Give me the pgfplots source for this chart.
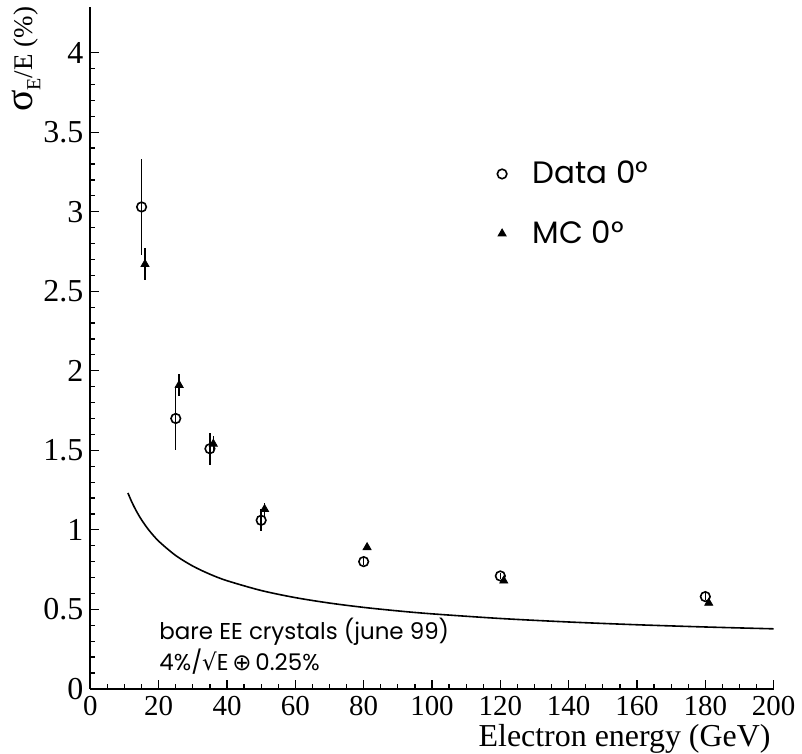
\documentclass[border=0pt]{standalone}
\usepackage{fontspec}
\setmainfont{Liberation Serif}
\newfontfamily\legfont{Poppins}
\newfontfamily\symfont{DejaVu Sans}
\usepackage{pgfplots}
\pgfplotsset{compat=1.18}

\begin{document}
\begin{tikzpicture}
\begin{axis}[
  scale only axis,
  width=342.5pt, height=342pt,
  xmin=0, xmax=200, ymin=0, ymax=4.29,
  axis x line*=bottom, axis y line*=left,
  axis line style={line width=1pt},
  separate axis lines,
  xtick={0,20,...,200}, ytick={0,0.5,...,4},
  minor x tick num=3, minor y tick num=4,
  tick align=inside,
  major tick length=4.5pt, minor tick length=2.5pt,
  tick style={line width=0.6pt, black},
  /pgf/number format/assume math mode=true,
  xticklabel style={font=\fontsize{14.5}{14.5}\selectfont},
  yticklabel style={font=\fontsize{16}{16}\selectfont, /pgf/number format/fixed},
  xlabel={Electron energy (GeV)},
  xlabel style={font=\fontsize{16}{16}\selectfont, at={(axis description cs:0.996,-0.051)},
    anchor=north east, inner sep=0pt},
  ylabel={{\fontsize{20}{20}\selectfont σ}\raisebox{-4pt}{\fontsize{10}{10}\selectfont E}/E (\%)},
  ylabel style={font=\fontsize{13.5}{13.5}\selectfont, at={(axis description cs:-0.1328,1.0102)},
    anchor=north east, inner xsep=3.5pt, inner ysep=6pt},
  legend style={draw=none, fill=none, inner sep=0pt, at={(axis cs:119,3.05)}, anchor=west,
    font=\legfont\fontsize{15.5}{15.5}\selectfont, row sep=15pt, column sep=12pt,
    nodes={inner sep=1pt}},
  legend cell align=left,
]
% resolution curve 4%/sqrt(E) (+) 0.25%
\addplot[black, line width=0.8pt, smooth, forget plot] coordinates {
  (11,1.2317) (12,1.1815) (13,1.1372) (14,1.0979) (15,1.0626) (17,1.0018)
  (20,0.9287) (25,0.8382) (30,0.7719) (35,0.7209) (40,0.6801) (50,0.6185)
  (60,0.5737) (70,0.5395) (80,0.5123) (90,0.4902) (100,0.4717) (120,0.4425)
  (140,0.4205) (160,0.4031) (180,0.3891) (200,0.3775)
};
% data 0 deg
\addplot[only marks, mark=o, mark size=2.4pt, mark options={line width=0.8pt, fill=white},
  error bars/.cd, y dir=both, y explicit, error mark=none,
  error bar style={line width=0.7pt}] coordinates {
  (15,3.03) +- (0,0.30)
  (25,1.70) +- (0,0.20)
  (35,1.51) +- (0,0.10)
  (50,1.06) +- (0,0.07)
  (80,0.80) +- (0,0.02)
  (120,0.71) +- (0,0.02)
  (180,0.58) +- (0,0.02)
};
% MC 0 deg
\addplot[only marks, mark=triangle*, mark size=2.3pt, mark options={black},
  error bars/.cd, y dir=both, y explicit, error mark=none,
  error bar style={line width=0.7pt}] coordinates {
  (16,2.67) +- (0,0.10)
  (26,1.91) +- (0,0.07)
  (36,1.54) +- (0,0.05)
  (51,1.13) +- (0,0.04)
  (81,0.89) +- (0,0.01)
  (121,0.68) +- (0,0.01)
  (181,0.54) +- (0,0.01)
};
\legend{Data 0°, MC 0°}
\node[anchor=north west, inner sep=0pt, align=left,
  font=\legfont\fontsize{11.5}{15.5}\selectfont] at (axis cs:20.1,0.45)
  {bare EE crystals (june 99)\\4\%/{\symfont√}E\,{\symfont⊕}\,0.25\%};
\end{axis}
\end{tikzpicture}
\end{document}
